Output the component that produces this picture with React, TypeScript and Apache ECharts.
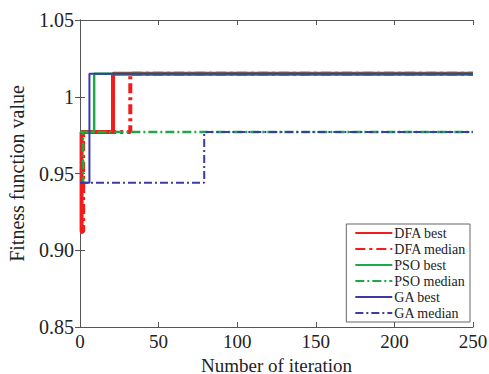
import React, { useEffect, useRef } from "react";
import * as echarts from "echarts";

const seriesNames = ["DFA best", "DFA median", "PSO best", "PSO median", "GA best", "GA median"];
const dfaBestIter = [0, 1, 21, 250];
const dfaBestVal = [0.912, 0.977, 1.015, 1.015];
const dfaMedianIter = [0, 2, 32, 250];
const dfaMedianVal = [0.912, 0.977, 1.015, 1.015];
const psoBestIter = [0, 9, 250];
const psoBestVal = [0.977, 1.015, 1.015];
const psoMedianIter = [0, 2, 250];
const psoMedianVal = [0.944, 0.977, 0.977];
const gaBestIter = [0, 3, 6, 250];
const gaBestVal = [0.944, 0.944, 1.015, 1.015];
const gaMedianIter = [0, 79, 250];
const gaMedianVal = [0.944, 0.977, 0.977];
const yTickValues = [0.85, 0.9, 0.95, 1.0, 1.05];
const yTickLabels = ["0.85", "0.90", "0.95", "1", "1.05"];

const FONT = "'Liberation Serif', 'DejaVu Serif', serif";

function pairs(xs: number[], ys: number[]) {
  return xs.map((x, i) => [x, ys[i]]);
}

export default function App() {
  const ref = useRef<HTMLDivElement>(null);
  useEffect(() => {
    if (!ref.current) return;
    const chart = echarts.init(ref.current, undefined, { renderer: "svg" });
    const mk = (name: string, data: number[][], color: string, width: number, type: any, z: number) => ({
      name,
      type: "line",
      step: "end",
      data,
      symbol: "none",
      z,
      lineStyle: { color, width, type },
      itemStyle: { color },
    });
    const red = "#f21c1c";
    const green = "#1ea84a";
    const blue = "#3b3aa6";
    const axisCommon = {
      axisLine: { show: true, lineStyle: { color: "#555", width: 1 } },
      axisTick: { show: true, inside: true, length: 5, lineStyle: { color: "#555" } },
      splitLine: { show: false },
    };
    chart.setOption({
      animation: false,
      backgroundColor: "#fff",
      grid: { left: 80, right: 16, top: 20, bottom: 47, containLabel: false, outerBoundsMode: "none" },
      xAxis: [
        {
          type: "value",
          min: 0,
          max: 250,
          interval: 50,
          ...axisCommon,
          axisLabel: { color: "#222", fontFamily: FONT, fontSize: 19, margin: 5 },
          name: "Number of iteration",
          nameLocation: "middle",
          nameGap: 20,
          nameTextStyle: { color: "#222", fontFamily: FONT, fontSize: 19 },
        },
        {
          type: "value",
          position: "top",
          min: 0,
          max: 250,
          interval: 50,
          ...axisCommon,
          axisLabel: { show: false },
        },
      ],
      yAxis: [
        {
          type: "value",
          min: 0.85,
          max: 1.05,
          interval: 0.05,
          ...axisCommon,
          axisLabel: {
            color: "#222",
            fontFamily: FONT,
            fontSize: 20,
            margin: 6,
            formatter: (v: number) => {
              const i = yTickValues.findIndex((t) => Math.abs(t - v) < 1e-6);
              return i >= 0 ? yTickLabels[i] : "";
            },
          },
          name: "Fitness function value",
          nameLocation: "middle",
          nameGap: 53,
          nameTextStyle: { color: "#222", fontFamily: FONT, fontSize: 20 },
        },
        {
          type: "value",
          position: "right",
          min: 0.85,
          max: 1.05,
          interval: 0.05,
          ...axisCommon,
          axisLabel: { show: false },
        },
      ],
      legend: {
        orient: "vertical",
        right: 19,
        bottom: 52,
        itemWidth: 37,
        itemHeight: 10,
        itemGap: 2,
        padding: [2, 4, 2, 8],
        borderColor: "#666",
        borderWidth: 1,
        borderRadius: 0,
        backgroundColor: "#fff",
        itemStyle: { color: "rgba(0,0,0,0)", borderColor: "rgba(0,0,0,0)", borderWidth: 0 },
        textStyle: { color: "#222", fontFamily: FONT, fontSize: 14, padding: [0, 0, 0, -3] },
        data: seriesNames,
      },
      series: [
        mk(seriesNames[0], pairs(dfaBestIter, dfaBestVal), red, 4, "solid", 2),
        mk(seriesNames[1], pairs(dfaMedianIter, dfaMedianVal), red, 4, [10, 4, 3, 4], 2),
        mk(seriesNames[2], pairs(psoBestIter, psoBestVal), green, 2.5, "solid", 3),
        mk(seriesNames[3], pairs(psoMedianIter, psoMedianVal), green, 2.5, [9, 3, 2, 3], 3),
        mk(seriesNames[4], pairs(gaBestIter, gaBestVal), blue, 2, "solid", 4),
        mk(seriesNames[5], pairs(gaMedianIter, gaMedianVal), blue, 2, [8, 3, 2, 3], 4),
      ],
    });
    return () => chart.dispose();
  }, []);
  return <div ref={ref} style={{ width: 489, height: 374, position: "absolute", left: 0, top: 0 }} />;
}
